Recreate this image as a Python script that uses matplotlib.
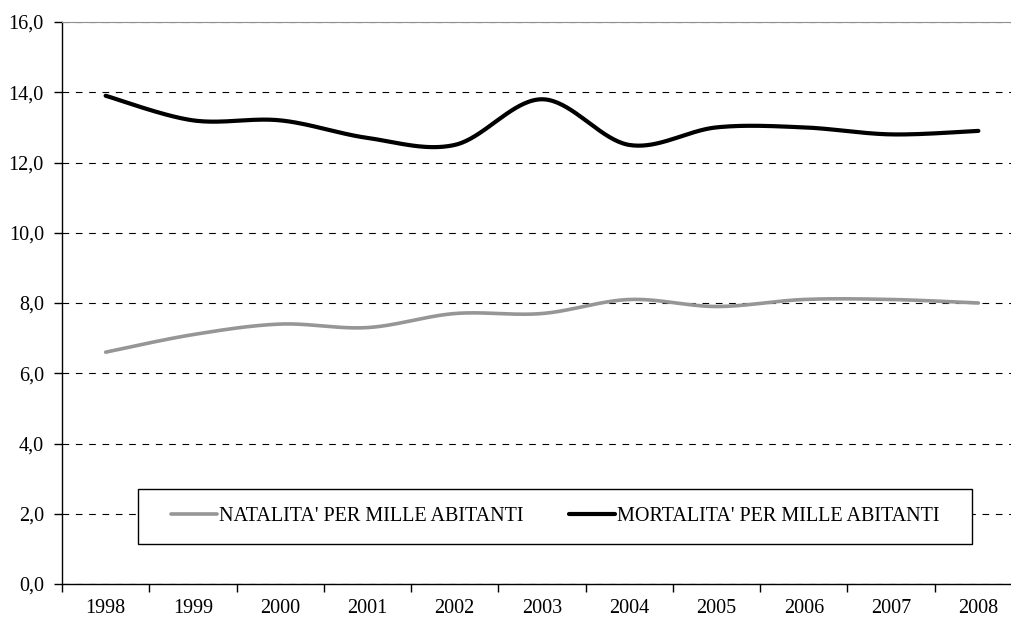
import matplotlib.pyplot as plt
import numpy as np
from matplotlib.patches import Rectangle

# dati
anni = ['1998', '1999', '2000', '2001', '2002', '2003', '2004', '2005', '2006', '2007', '2008']
natalita = [6.6, 7.1, 7.4, 7.3, 7.7, 7.7, 8.1, 7.9, 8.1, 8.1, 8.0]
mortalita = [13.9, 13.2, 13.2, 12.7, 12.5, 13.8, 12.5, 13.0, 13.0, 12.8, 12.9]
etichette = ["NATALITA' PER MILLE ABITANTI", "MORTALITA' PER MILLE ABITANTI"]
y_ticks = [0, 2, 4, 6, 8, 10, 12, 14, 16]


def curva_liscia(y, n=40):
    # linea "smussata" tipo Excel (bezier cubica tra punti consecutivi)
    x = np.arange(len(y), dtype=float)
    y = np.asarray(y, dtype=float)
    xs, ys = [], []
    for i in range(len(y) - 1):
        i0 = max(i - 1, 0)
        i3 = min(i + 2, len(y) - 1)
        p0 = np.array([x[i], y[i]])
        p3 = np.array([x[i + 1], y[i + 1]])
        p1 = p0 + (np.array([x[i + 1], y[i + 1]]) - np.array([x[i0], y[i0]])) / 6
        p2 = p3 - (np.array([x[i3], y[i3]]) - np.array([x[i], y[i]])) / 6
        t = np.linspace(0, 1, n)[:, None]
        b = (1 - t) ** 3 * p0 + 3 * (1 - t) ** 2 * t * p1 + 3 * (1 - t) * t ** 2 * p2 + t ** 3 * p3
        xs.extend(b[:, 0])
        ys.extend(b[:, 1])
    return np.array(xs), np.array(ys)


plt.rcParams['font.family'] = ['Liberation Serif', 'DejaVu Serif']
fs = 14.5

fig = plt.figure(figsize=(10.12, 6.24), dpi=100)
ax = fig.add_axes([62 / 1012, 40 / 624, 960 / 1012, 562 / 624])

xn, yn = curva_liscia(natalita)
xm, ym = curva_liscia(mortalita)
ax.plot(xn, yn, color='#969696', lw=2.6, solid_capstyle='round', label=etichette[0], zorder=3)
ax.plot(xm, ym, color='black', lw=3.0, solid_capstyle='round', label=etichette[1], zorder=3)

ax.set_xlim(-0.5, len(anni) - 0.5)
ax.set_ylim(0, 16)

# griglia tratteggiata orizzontale
ax.set_yticks(y_ticks)
ax.set_yticklabels([f'{v:.1f}'.replace('.', ',') for v in y_ticks])
ax.yaxis.grid(True, color='black', lw=0.8, linestyle=(0, (6, 6)))
ax.set_axisbelow(True)

# etichette anni al centro, tacche tra le categorie
ax.set_xticks(range(len(anni)))
ax.set_xticklabels(anni)
ax.set_xticks(np.arange(-0.5, len(anni), 1), minor=True)
ax.tick_params(axis='x', which='major', length=0, pad=11, labelsize=fs)
ax.tick_params(axis='x', which='minor', length=6, width=1, direction='out')
ax.tick_params(axis='y', length=6, width=1, pad=7, labelsize=fs, direction='out')

ax.spines['top'].set_color('#909090')
ax.spines['right'].set_visible(False)
ax.spines['left'].set_linewidth(1)
ax.spines['bottom'].set_linewidth(1)

# riquadro della legenda
ax.add_patch(Rectangle((0.0792, 0.071), 0.869, 0.098, transform=ax.transAxes,
                       facecolor='white', edgecolor='black', lw=1, zorder=4))
leg = ax.legend(loc='center', bbox_to_anchor=(0.1135, 0.09, 0.801, 0.06), mode='expand',
                ncol=2, frameon=False, fontsize=fs, handlelength=2.3, handletextpad=0.1,
                borderpad=0, borderaxespad=0)
leg.set_zorder(5)

fig.savefig('out.png', dpi=100)
